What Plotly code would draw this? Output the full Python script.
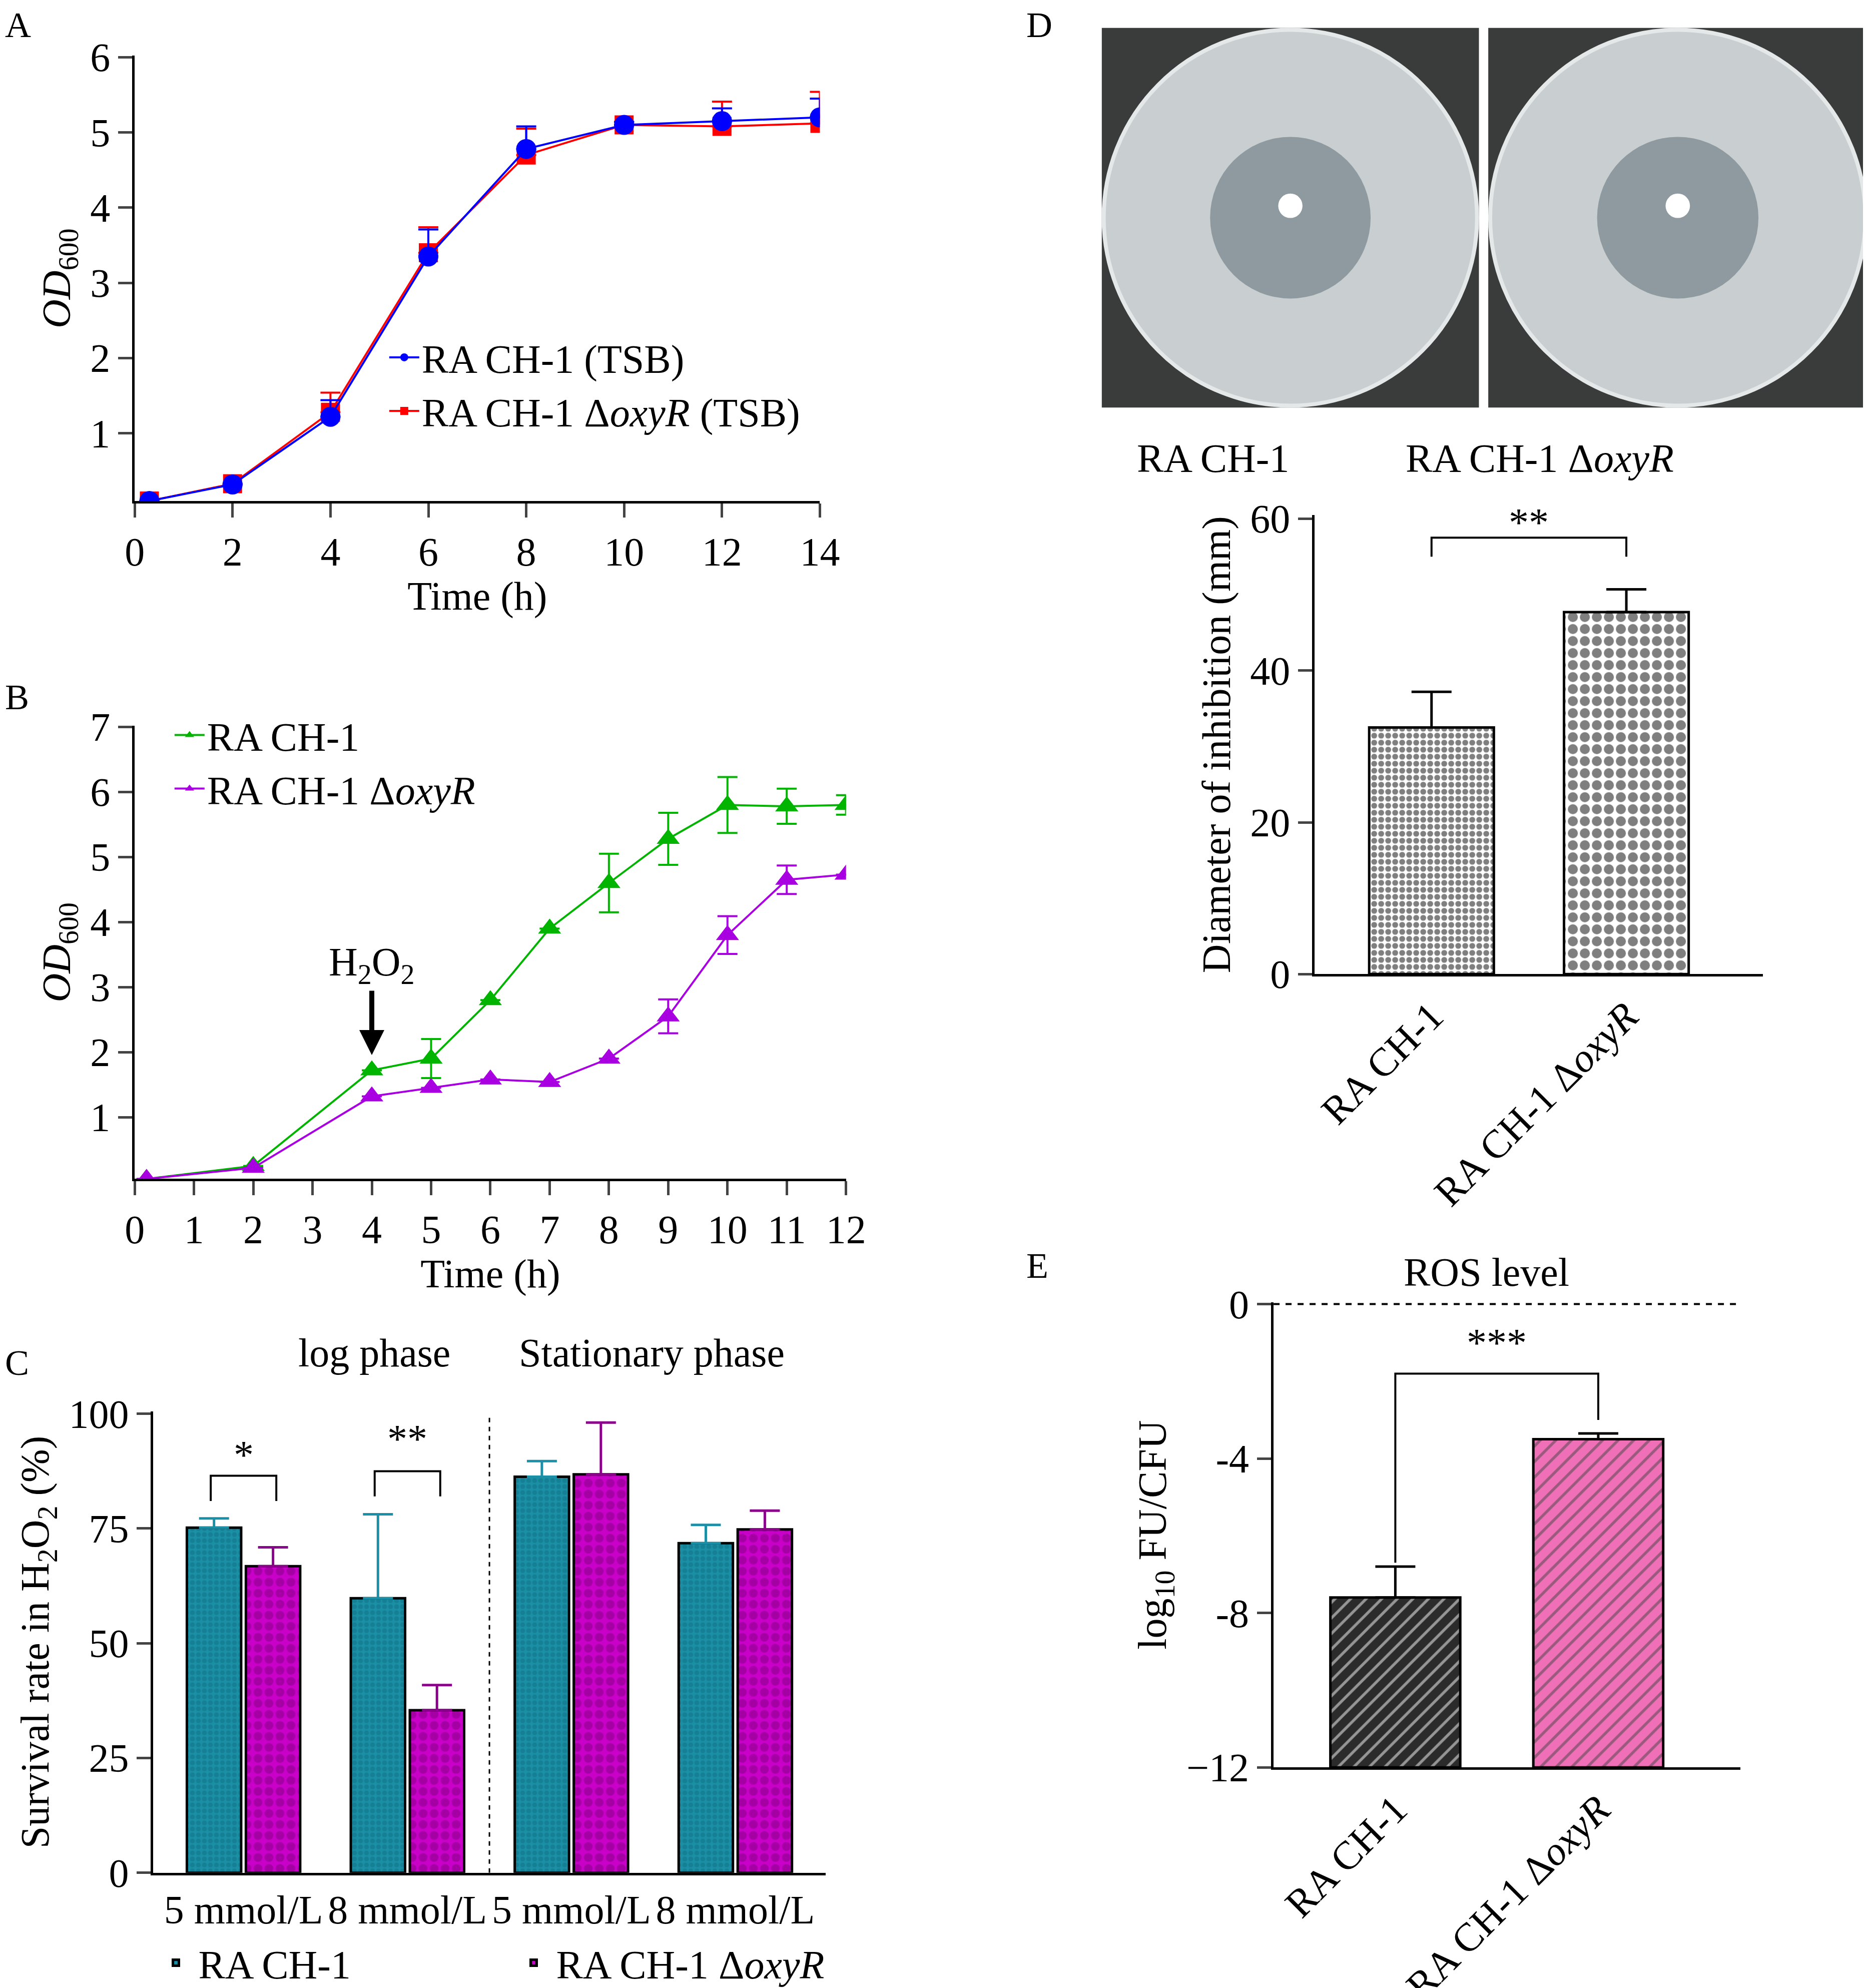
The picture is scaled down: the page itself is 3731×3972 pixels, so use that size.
import plotly.graph_objects as go

FONT = "Liberation Serif"
W, H = 3731, 3972

# Panel A
a_time = [0.3, 2, 4, 6, 8, 10, 12, 14]
a_wt = [0.1, 0.32, 1.22, 3.35, 4.78, 5.1, 5.15, 5.2]
a_wt_err = [0, 0, 0.22, 0.36, 0.3, 0.04, 0.17, 0.25]
a_mut = [0.1, 0.33, 1.28, 3.4, 4.7, 5.1, 5.08, 5.12]
a_mut_err = [0, 0, 0.26, 0.34, 0.35, 0.04, 0.33, 0.42]

# Panel B
b_time = [0.2, 2, 4, 5, 6, 7, 8, 9, 10, 11, 12]
b_wt = [0.05, 0.25, 1.72, 1.9, 2.8, 3.9, 4.6, 5.28, 5.8, 5.78, 5.8]
b_wt_err = [0, 0, 0, 0.3, 0, 0, 0.45, 0.4, 0.43, 0.27, 0.15]
b_mut = [0.05, 0.22, 1.32, 1.45, 1.58, 1.54, 1.9, 2.55, 3.8, 4.65, 4.73]
b_mut_err = [0, 0, 0, 0, 0, 0, 0, 0.26, 0.29, 0.22, 0]

# Panel C
c_labels = ["5 mmol/L", "8 mmol/L", "5 mmol/L", "8 mmol/L"]
c_wt = [75.2, 59.8, 86.3, 71.8]
c_wt_err = [2.0, 18.3, 3.4, 4.0]
c_mut = [66.8, 35.4, 86.8, 74.8]
c_mut_err = [4.1, 5.5, 11.3, 4.1]

# Panel D
d_labels = ["RA CH-1", "RA CH-1 Δ<i>oxyR</i>"]
d_vals = [32.5, 47.7]
d_err = [4.7, 3.0]

# Panel E
e_labels = ["RA CH-1", "RA CH-1 Δ<i>oxyR</i>"]
e_vals = [-7.6, -3.5]
e_err = [0.8, 0.15]

fig = go.Figure()

lw = 5
FS = 80
tick = dict(ticks="outside", ticklen=28, tickwidth=lw, showline=True, linewidth=lw,
            linecolor="black", showgrid=False, zeroline=False, automargin=False,
            tickfont=dict(size=FS, family=FONT, color="black"))

# A
fig.add_trace(go.Scatter(x=a_time, y=a_mut, mode="lines+markers", name="RA CH-1 Δ<i>oxyR</i> (TSB)",
                         line=dict(color="#ff0000", width=4), marker=dict(symbol="square", size=38, color="#ff0000"),
                         error_y=dict(type="data", array=a_mut_err, arrayminus=[0]*8, color="#ff0000", thickness=4, width=20),
                         xaxis="x", yaxis="y", legend="legend"))
fig.add_trace(go.Scatter(x=a_time, y=a_wt, mode="lines+markers", name="RA CH-1 (TSB)",
                         line=dict(color="#0000ff", width=4), marker=dict(symbol="circle", size=40, color="#0000ff"),
                         error_y=dict(type="data", array=a_wt_err, arrayminus=[0]*8, color="#0000ff", thickness=4, width=20),
                         xaxis="x", yaxis="y", legend="legend"))

# B
fig.add_trace(go.Scatter(x=b_time, y=b_wt, mode="lines+markers", name="RA CH-1",
                         line=dict(color="#00b400", width=4), marker=dict(symbol="triangle-up", size=40, color="#00b400"),
                         error_y=dict(type="data", array=b_wt_err, color="#00b400", thickness=4, width=20),
                         xaxis="x2", yaxis="y2", legend="legend2"))
fig.add_trace(go.Scatter(x=b_time, y=b_mut, mode="lines+markers", name="RA CH-1 Δ<i>oxyR</i>",
                         line=dict(color="#a800e0", width=4), marker=dict(symbol="triangle-up", size=40, color="#a800e0"),
                         error_y=dict(type="data", array=b_mut_err, color="#a800e0", thickness=4, width=20),
                         xaxis="x2", yaxis="y2", legend="legend2"))

# C
cx = list(range(len(c_labels)))
fig.add_trace(go.Bar(x=cx, y=c_wt, name="RA CH-1", marker=dict(color="#1a8fa5", line=dict(color="black", width=5),
                     pattern=dict(shape=".", fgcolor="#107084", size=12, solidity=0.5)),
                     error_y=dict(type="data", array=c_wt_err, arrayminus=[0]*4, color="#1a8fa5", thickness=5, width=30),
                     xaxis="x3", yaxis="y3", legend="legend3"))
fig.add_trace(go.Bar(x=cx, y=c_mut, name="RA CH-1 Δ<i>oxyR</i>", marker=dict(color="#c800c8", line=dict(color="black", width=5),
                     pattern=dict(shape=".", fgcolor="#800080", size=22, solidity=0.5)),
                     error_y=dict(type="data", array=c_mut_err, arrayminus=[0]*4, color="#8a008a", thickness=5, width=30),
                     xaxis="x3", yaxis="y3", legend="legend3"))

# D
fig.add_trace(go.Bar(x=[0, 1], y=d_vals, showlegend=False,
                     marker=dict(color="white", line=dict(color="black", width=5),
                                 pattern=dict(shape=".", fgcolor="black", size=[14, 24], solidity=0.55)),
                     error_y=dict(type="data", array=d_err, arrayminus=[0, 0], color="black", thickness=5, width=40),
                     width=0.64, xaxis="x4", yaxis="y4"))

# E
fig.add_trace(go.Bar(x=[0, 1], y=[v + 12 for v in e_vals], base=-12, showlegend=False,
                     marker=dict(color=["#2b2b2b", "#f070b8"], line=dict(color="black", width=5),
                                 pattern=dict(shape="/", fgcolor=["#000000", "#7a2050"], size=22, solidity=0.25)),
                     error_y=dict(type="data", array=e_err, arrayminus=[0, 0], color="black", thickness=5, width=40),
                     width=0.64, xaxis="x5", yaxis="y5"))

ax_title = lambda t: dict(text=t, font=dict(size=FS, family=FONT, color="black"))

fig.update_layout(
    width=W, height=H, paper_bgcolor="white", plot_bgcolor="white",
    margin=dict(l=0, r=0, t=0, b=0), font=dict(family=FONT, color="black"),
    barmode="group", bargap=0.28, bargroupgap=0.08,
    xaxis=dict(domain=[0.070, 0.437], range=[0, 14], tickvals=list(range(0, 15, 2)), title=ax_title("Time (h)"), anchor="y", **tick),
    yaxis=dict(domain=[0.750, 0.974], range=[0.1, 6.02], tickvals=list(range(1, 7)), title=ax_title("<i>OD</i><sub>600</sub>"), anchor="x", **tick),
    xaxis2=dict(domain=[0.070, 0.451], range=[0, 12], tickvals=list(range(0, 13)), title=ax_title("Time (h)"), anchor="y2", **tick),
    yaxis2=dict(domain=[0.409, 0.637], range=[0.05, 7.02], tickvals=list(range(1, 8)), title=ax_title("<i>OD</i><sub>600</sub>"), anchor="x2", **tick),
    xaxis3=dict(domain=[0.080, 0.440], range=[-0.55, 3.55], tickvals=cx, ticktext=c_labels, anchor="y3", **{**tick, "ticks": ""}),
    yaxis3=dict(domain=[0.060, 0.292], range=[0, 100.5], tickvals=[0, 25, 50, 75, 100],
                title=ax_title("Survival rate in H<sub>2</sub>O<sub>2</sub> (%)"), anchor="x3", **tick),
    xaxis4=dict(domain=[0.702, 0.942], range=[-0.6, 1.7], tickvals=[0, 1], ticktext=d_labels, tickangle=-45, anchor="y4", **{**tick, "ticks": ""}),
    yaxis4=dict(domain=[0.512, 0.743], range=[0, 60.5], tickvals=[0, 20, 40, 60], title=ax_title("Diameter of inhibition (mm)"), anchor="x4", **tick),
    xaxis5=dict(domain=[0.680, 0.930], range=[-0.6, 1.7], tickvals=[0, 1], ticktext=e_labels, tickangle=-45, anchor="y5", **{**tick, "ticks": ""}),
    yaxis5=dict(domain=[0.113, 0.347], range=[-12, 0.05], tickvals=[-12, -8, -4, 0], ticktext=["\u221212", "-8", "-4", "0"],
                title=ax_title("log<sub>10</sub> FU/CFU"), anchor="x5", **tick),
    legend=dict(x=0.205, y=0.837, xanchor="left", yanchor="top", bgcolor="rgba(0,0,0,0)", font=dict(size=FS), itemwidth=60,
                traceorder="reversed", tracegroupgap=20),
    legend2=dict(x=0.09, y=0.647, xanchor="left", yanchor="top", bgcolor="rgba(0,0,0,0)", font=dict(size=FS), itemwidth=60),
    legend3=dict(x=0.08, y=0.0, xanchor="left", yanchor="bottom", orientation="h", bgcolor="rgba(0,0,0,0)",
                 font=dict(size=FS), itemwidth=80, entrywidth=620),
)

ann = []
for t, x, y in [("A", 0.0, 1.0), ("B", 0.0, 0.662), ("C", 0.0, 0.327), ("D", 0.547, 1.0), ("E", 0.547, 0.376)]:
    ann.append(dict(text=t, x=x, y=y, xref="paper", yref="paper", xanchor="left", yanchor="top", showarrow=False, font=dict(size=72)))
ann += [
    dict(text="H<sub>2</sub>O<sub>2</sub>", x=4, y=1.8, xref="x2", yref="y2", ax=0, ay=-200, showarrow=True,
         arrowhead=2, arrowsize=1, arrowwidth=10, arrowcolor="black", standoff=20, font=dict(size=FS)),
    dict(text="log phase", x=0.157, y=0.31, xref="paper", yref="paper", showarrow=False, font=dict(size=FS)),
    dict(text="Stationary phase", x=0.347, y=0.31, xref="paper", yref="paper", showarrow=False, font=dict(size=FS)),
    dict(text="*", x=0, y=91, xref="x3", yref="y3", showarrow=False, font=dict(size=FS)),
    dict(text="**", x=1, y=94.5, xref="x3", yref="y3", showarrow=False, font=dict(size=FS)),
    dict(text="**", x=0.5, y=59.5, xref="x4", yref="y4", showarrow=False, font=dict(size=FS)),
    dict(text="***", x=0.5, y=-1.0, xref="x5", yref="y5", showarrow=False, font=dict(size=FS)),
    dict(text="ROS level", x=0.45, y=0.362, xref="x5", yref="paper", showarrow=False, font=dict(size=FS)),
    dict(text="RA CH-1", x=0.689, y=0.783, xref="paper", yref="paper", showarrow=False, font=dict(size=FS)),
    dict(text="RA CH-1 Δ<i>oxyR</i>", x=0.895, y=0.783, xref="paper", yref="paper", showarrow=False, font=dict(size=FS)),
]
fig.update_layout(annotations=ann)

shapes = [
    dict(type="path", xref="x3", yref="y3", path="M -0.2,81 L -0.2,86.5 L 0.2,86.5 L 0.2,81", line=dict(color="black", width=4)),
    dict(type="path", xref="x3", yref="y3", path="M 0.8,82 L 0.8,87.5 L 1.2,87.5 L 1.2,82", line=dict(color="black", width=4)),
    dict(type="path", xref="x4", yref="y4", path="M 0,55 L 0,57.5 L 1,57.5 L 1,55", line=dict(color="black", width=4)),
    dict(type="path", xref="x5", yref="y5", path="M 0,-6.7 L 0,-1.8 L 1,-1.8 L 1,-3.0", line=dict(color="black", width=4)),
    dict(type="line", xref="x3", yref="y3", x0=1.5, x1=1.5, y0=0, y1=100, line=dict(color="black", width=3, dash="dash")),
    dict(type="line", xref="x5", yref="y5", x0=-0.6, x1=1.7, y0=0, y1=0, line=dict(color="black", width=4, dash="dash")),
]

# plate photos
for x0, x1 in [(0.588, 0.790), (0.795, 0.998)]:
    y0, y1 = 0.797, 0.988
    shapes.append(dict(type="rect", xref="paper", yref="paper", x0=x0, x1=x1, y0=y0, y1=y1, fillcolor="#3a3c3c", line_width=0))
    cx_, cy_ = (x0 + x1) / 2, (y0 + y1) / 2
    rx, ry = (x1 - x0) / 2 * 0.99, (y1 - y0) / 2 * 0.99
    shapes.append(dict(type="circle", xref="paper", yref="paper", x0=cx_ - rx, x1=cx_ + rx, y0=cy_ - ry, y1=cy_ + ry,
                       fillcolor="#c9cfd0", line=dict(color="#e4e8e8", width=8)))
    ir = 0.43
    shapes.append(dict(type="circle", xref="paper", yref="paper", x0=cx_ - rx * ir, x1=cx_ + rx * ir,
                       y0=cy_ - ry * ir, y1=cy_ + ry * ir, fillcolor="#8e9a9f", line_width=0))
    d = 0.065
    shapes.append(dict(type="circle", xref="paper", yref="paper", x0=cx_ - rx * d, x1=cx_ + rx * d,
                       y0=cy_ + 0.006 - ry * d, y1=cy_ + 0.006 + ry * d, fillcolor="white", line_width=0))
fig.update_layout(shapes=shapes)

fig.write_html("out.html")
